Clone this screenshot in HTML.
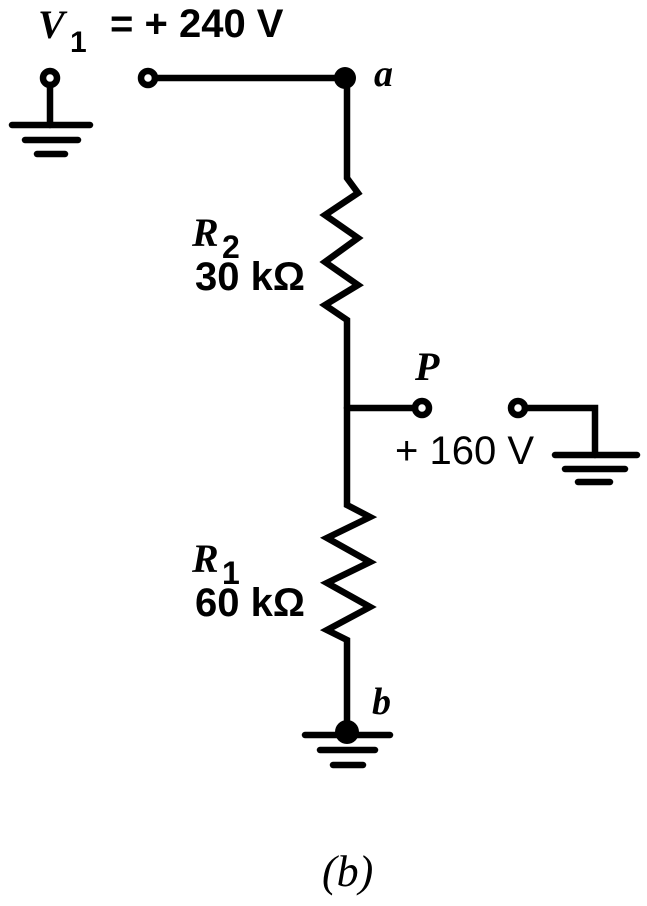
<!DOCTYPE html>
<html><head><style>body{margin:0;background:#fff}</style></head><body>
<svg width="647" height="901" viewBox="0 0 647 901" xmlns="http://www.w3.org/2000/svg">
<g stroke="#000" stroke-width="6.5" fill="none" stroke-linecap="round" stroke-linejoin="miter">
<circle cx="50" cy="78" r="7"/>
<line x1="50" y1="85" x2="50" y2="125"/>
<line x1="12" y1="125" x2="90" y2="125"/>
<line x1="25" y1="140" x2="78" y2="140"/>
<line x1="37" y1="154" x2="65" y2="154"/>
<circle cx="148" cy="78" r="7"/>
<line x1="155" y1="78" x2="345" y2="78"/>
<polyline points="347,78 347,178 358,193 325,215 358,238 325,262 358,285 325,305 347,320 347,505 370,517 327,538 370,562 327,583 370,607 327,630 347,640 347,730"/>
<line x1="347" y1="408" x2="415" y2="408"/>
<circle cx="422" cy="408" r="7"/>
<circle cx="518" cy="408" r="7"/>
<polyline points="525,408 595,408 595,455"/>
<line x1="555" y1="455" x2="637" y2="455"/>
<line x1="565" y1="469" x2="625" y2="469"/>
<line x1="578" y1="482" x2="610" y2="482"/>
<line x1="305" y1="735" x2="390" y2="735"/>
<line x1="320" y1="750" x2="375" y2="750"/>
<line x1="333" y1="765" x2="363" y2="765"/>
</g>
<circle cx="345" cy="78" r="11" fill="#000"/>
<circle cx="347" cy="732" r="12" fill="#000"/>
<g font-family="Liberation Sans, sans-serif" font-weight="bold" font-size="40" fill="#000">
<text x="38" y="38" font-family="Liberation Serif, serif" font-style="italic">V</text>
<text x="70" y="52" font-size="30">1</text>
<text x="110" y="37" font-size="40">= + 240 V</text>
<text x="192" y="246" font-family="Liberation Serif, serif" font-style="italic">R</text>
<text x="222" y="258" font-size="32">2</text>
<text x="195" y="290">30 kΩ</text>
<text x="415" y="380" font-family="Liberation Serif, serif" font-style="italic">P</text>
<text x="395" y="464" font-weight="normal">+ 160 V</text>
<text x="192" y="572" font-family="Liberation Serif, serif" font-style="italic">R</text>
<text x="222" y="584" font-size="32">1</text>
<text x="195" y="616">60 kΩ</text>
</g>
<g font-family="Liberation Serif, serif" font-style="italic" font-weight="bold" font-size="38" fill="#000">
<text x="374" y="86">a</text>
<text x="372" y="714">b</text>
<text x="322" y="886" font-weight="normal" font-size="44">(b)</text>
</g>
</svg>
</body></html>
